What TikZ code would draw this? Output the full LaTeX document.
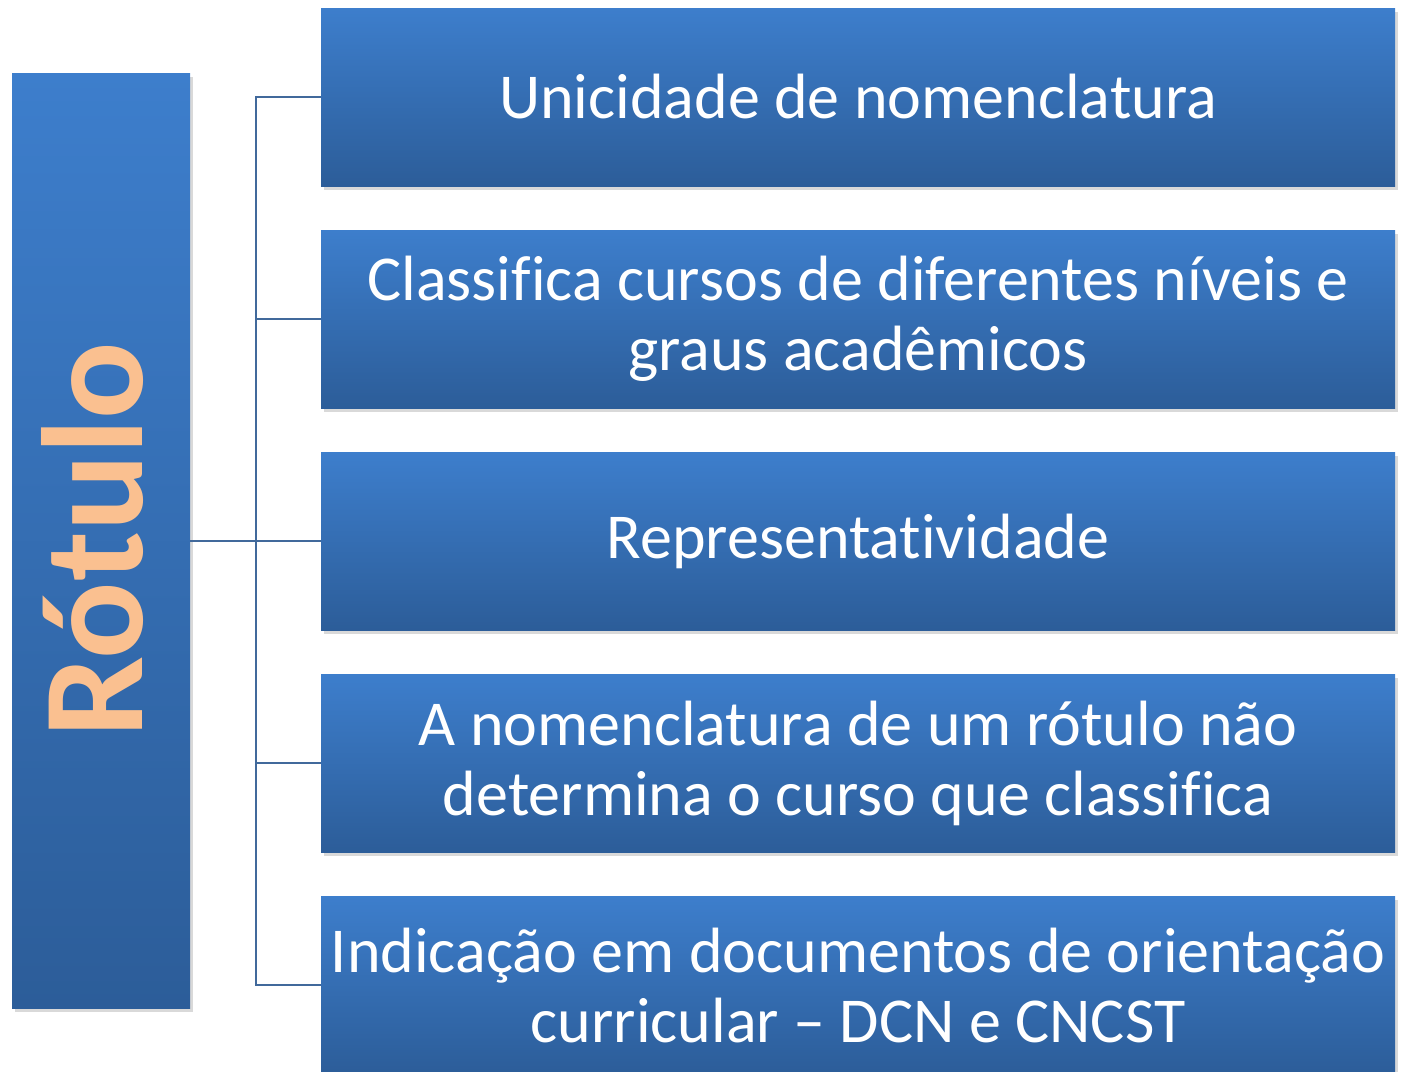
\documentclass[tikz,border=0pt]{standalone}
\usepackage{fontspec}
\setmainfont{Carlito}[Ligatures={TeX,NoCommon}]
\usetikzlibrary{positioning,shadows}
\definecolor{boxtop}{RGB}{61,126,204}
\definecolor{boxbot}{RGB}{44,93,153}
\definecolor{linkblue}{RGB}{65,105,155}
\definecolor{peach}{RGB}{250,192,144}

\begin{document}
\begin{tikzpicture}[
            x=0.5pt, y=-0.5pt,
            block/.style={rectangle, top color=boxtop, bottom color=boxbot, draw=none,
                minimum width=537pt, minimum height=89pt, align=center, text=white,
                font=\fontsize{32}{35}\selectfont, inner sep=0pt,
                drop shadow={shadow xshift=1.5pt, shadow yshift=-2pt, opacity=0.3}},
            link/.style={draw=linkblue, line width=1pt}
        ]
        \useasboundingbox (0,0) rectangle (1401,1071);

        \node[block, minimum width=89pt, minimum height=467.5pt] (rotulo) at (101,540.5) {};
        \node[rotate=90, text=peach, font=\fontsize{72}{80}\bfseries\selectfont] (rotlabel) at (93,540) {Rótulo};

        \node[block] (nomen) at (858,97) {Unicidade de nomenclatura};
        \node[block] (classif) at (858,319) {Classifica cursos de diferentes níveis e\\graus acadêmicos};
        \node[block] (repres) at (858,541) {Representatividade};
        \node[block] (determ) at (858,763) {A nomenclatura de um rótulo não\\determina o curso que classifica};
        \node[block] (indic) at (858,985) {Indicação em documentos de orientação\\curricular – DCN e CNCST};

        \coordinate (trunk) at (256,541);
        \draw[link] (rotulo.east |- trunk) -- (trunk);
        \draw[link] (trunk) |- (nomen.west);
        \draw[link] (trunk) |- (classif.west);
        \draw[link] (trunk) -- (repres.west);
        \draw[link] (trunk) |- (determ.west);
        \draw[link] (trunk) |- (indic.west);
        \end{tikzpicture}
\end{document}
